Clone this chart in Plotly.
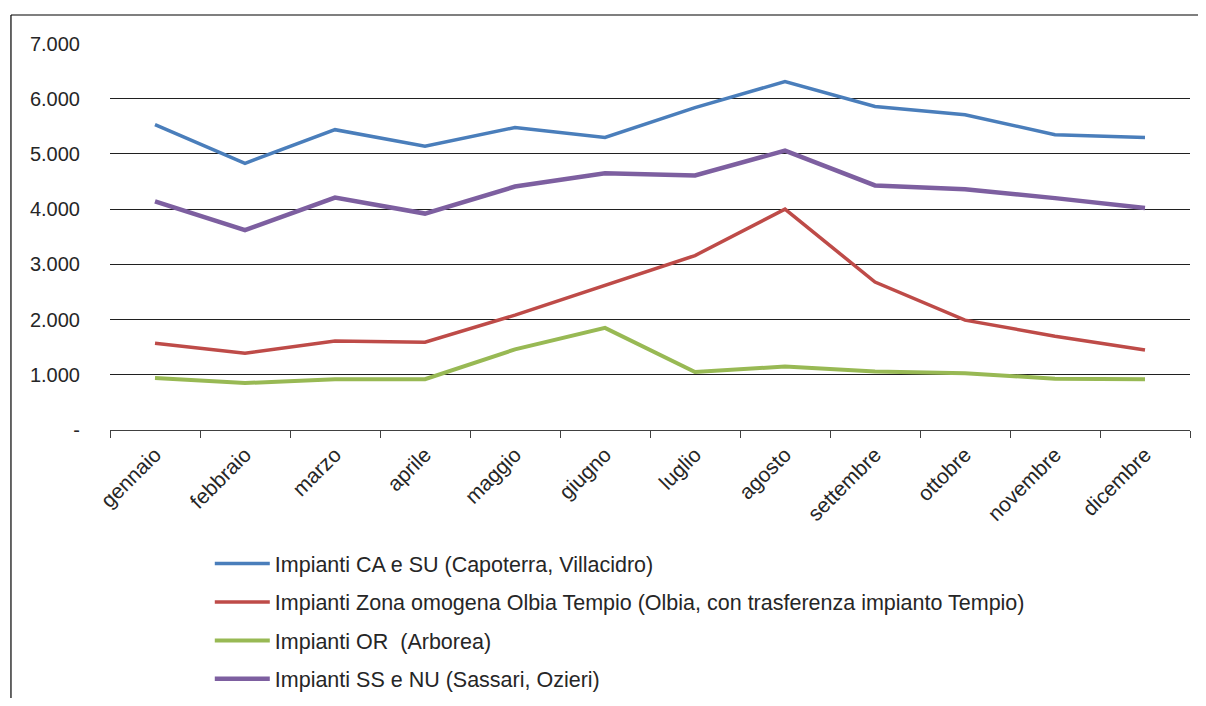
import plotly.graph_objects as go

mesi = ["gennaio", "febbraio", "marzo", "aprile", "maggio", "giugno",
        "luglio", "agosto", "settembre", "ottobre", "novembre", "dicembre"]

ca_su = [5530, 4830, 5440, 5140, 5480, 5300, 5840, 6310, 5860, 5710, 5350, 5300]
olbia = [1570, 1390, 1610, 1590, 2080, 2620, 3160, 4000, 2680, 1990, 1700, 1450]
oristano = [940, 850, 920, 920, 1460, 1850, 1050, 1150, 1060, 1030, 930, 920]
ss_nu = [4140, 3620, 4210, 3920, 4410, 4650, 4610, 5060, 4430, 4360, 4200, 4020]

y_ticks = [0, 1000, 2000, 3000, 4000, 5000, 6000, 7000]
y_labels = ["-", "1.000", "2.000", "3.000", "4.000", "5.000", "6.000", "7.000"]

series = [
    ("Impianti CA e SU (Capoterra, Villacidro)", ca_su, "#4A7EBB", 3.5),
    ("Impianti Zona omogena Olbia Tempio (Olbia, con trasferenza impianto Tempio)", olbia, "#BE4B48", 3.5),
    ("Impianti OR  (Arborea)", oristano, "#98B954", 4),
    ("Impianti SS e NU (Sassari, Ozieri)", ss_nu, "#7D5FA0", 4.5),
]

fig = go.Figure()
for i, (name, vals, color, w) in enumerate(series):
    fig.add_trace(go.Scatter(
        x=mesi, y=vals, name=name, mode="lines",
        line=dict(color=color, width=w),
        legendgroup=str(i),
    ))

# page body has an 8px margin, so the figure is a bit smaller than the window
fig.update_layout(
    width=1190, height=690,
    margin=dict(l=102, r=8, t=35, b=268, autoexpand=False),
    paper_bgcolor="white", plot_bgcolor="white",
    font=dict(family="Liberation Sans, Arial, sans-serif", size=20, color="#262626"),
    showlegend=True,
    legend=dict(
        x=0.0924, y=(690 - 535) / 690, xref="paper", yref="container",
        xanchor="left", yanchor="top",
        traceorder="grouped", tracegroupgap=7.5,
        itemwidth=55, font=dict(size=21.5),
    ),
    # outer frame: only left and top edges are visible in the reference
    shapes=[
        dict(type="line", xref="paper", yref="paper",
             x0=-0.0917, x1=-0.0917, y0=-0.75, y1=1.0724,
             line=dict(color="black", width=1.2)),
        dict(type="line", xref="paper", yref="paper",
             x0=-0.0917, x1=1.01, y0=1.0724, y1=1.0724,
             line=dict(color="black", width=1.2)),
    ],
)
fig.update_xaxes(
    type="category", range=[-0.5, 11.5], tickangle=-45, tickson="boundaries",
    ticks="outside", ticklen=7, tickcolor="#404040",
    showline=True, linecolor="#404040", linewidth=1.2,
    showgrid=False, tickfont=dict(size=21), ticklabelstandoff=3,
)
fig.update_yaxes(
    range=[0, 7010], tickvals=y_ticks, ticktext=y_labels,
    showgrid=True, gridcolor="#202020", gridwidth=1,
    zeroline=False, showline=False, ticks="",
    ticklabelstandoff=29, tickfont=dict(size=20),
)

fig.write_html("out.html")
